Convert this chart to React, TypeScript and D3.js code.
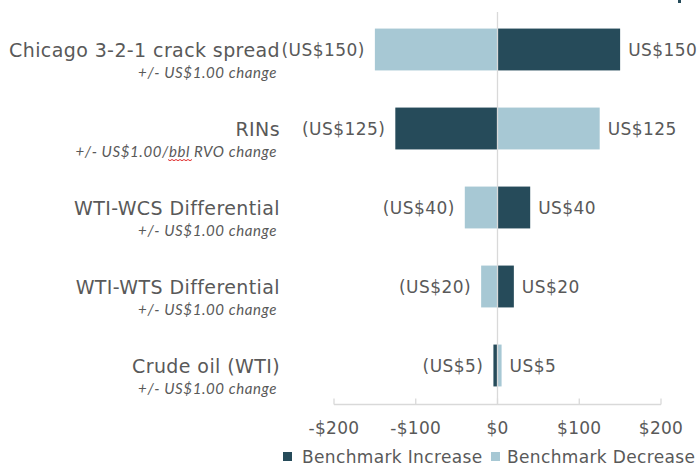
import React from "react";
import * as d3 from "d3";

const categories = [
  "Chicago 3-2-1 crack spread",
  "RINs",
  "WTI-WCS Differential",
  "WTI-WTS Differential",
  "Crude oil (WTI)",
];
const subtitles = [
  "+/- US$1.00 change",
  "+/- US$1.00/bbl RVO change",
  "+/- US$1.00 change",
  "+/- US$1.00 change",
  "+/- US$1.00 change",
];
const increaseValues = [150, -125, 40, 20, -5];
const decreaseValues = [-150, 125, -40, -20, 5];
const tickValues = [-200, -100, 0, 100, 200];
const legendLabels = ["Benchmark Increase", "Benchmark Decrease"];

const DARK = "#264b5a";
const LIGHT = "#a7c8d4";
const TEXT = "#595959";
const GRID = "#d9d9d9";
const FONT = "'DejaVu Sans', Verdana, sans-serif";
const SUBFONT = "Lato, 'Liberation Sans', sans-serif";

const fmtVal = (v: number) => (v < 0 ? `(US$${Math.abs(v)})` : `US$${v}`);
const fmtTick = (v: number) => (v < 0 ? `-$${Math.abs(v)}` : `$${v}`);

export default function App() {
  const W = 697;
  const H = 467;
  const x = d3.scaleLinear().domain([-200, 200]).range([334, 661]);
  const y = d3
    .scaleBand<string>()
    .domain(categories)
    .range([10, 405])
    .paddingInner(0.47)
    .paddingOuter(0.235);
  const bw = y.bandwidth();
  const axisY = 404.5;

  const bars: { cat: string; v: number; color: string }[] = [];
  categories.forEach((c, i) => {
    bars.push({ cat: c, v: increaseValues[i], color: DARK });
    bars.push({ cat: c, v: decreaseValues[i], color: LIGHT });
  });

  return (
    <svg
      width={W}
      height={H}
      style={{ position: "absolute", left: 0, top: 0, background: "#fff" }}
    >
      <rect x={678} y={0} width={3} height={3} fill={DARK} />
      {bars.map((b, i) => {
        const x0 = x(Math.min(0, b.v));
        const x1 = x(Math.max(0, b.v));
        return (
          <rect
            key={i}
            x={x0}
            y={y(b.cat)!}
            width={x1 - x0}
            height={bw}
            fill={b.color}
          />
        );
      })}
      <line x1={x(0)} x2={x(0)} y1={12} y2={axisY} stroke={GRID} strokeWidth={1.3} />
      <line x1={x(-200)} x2={x(200)} y1={axisY} y2={axisY} stroke={GRID} strokeWidth={1.3} />
      {tickValues.map((t) => (
        <g key={t}>
          <line x1={x(t)} x2={x(t)} y1={axisY - 6} y2={axisY} stroke={GRID} strokeWidth={1.3} />
          <text
            x={x(t)}
            y={434}
            textAnchor="middle"
            fontFamily={FONT}
            fontSize={17}
            letterSpacing={0.3}
            fill={TEXT}
          >
            {fmtTick(t)}
          </text>
        </g>
      ))}
      {categories.map((c, i) => {
        const cy = y(c)! + bw / 2;
        const vals = [increaseValues[i], decreaseValues[i]];
        const neg = Math.min(...vals);
        const pos = Math.max(...vals);
        return (
          <g key={c}>
            <text
              x={280}
              y={cy + 7}
              textAnchor="end"
              fontFamily={FONT}
              fontSize={19}
              letterSpacing={0.4}
              fill={TEXT}
            >
              {c}
            </text>
            <text
              x={277}
              y={cy + 28}
              textAnchor="end"
              fontFamily={SUBFONT}
              fontStyle="italic"
              fontSize={15}
              letterSpacing={0.6}
              fill={TEXT}
            >
              {subtitles[i]}
            </text>
            {i === 1 && (
              <path
                d={d3.range(0, 25, 2).map((d, k) => `${k === 0 ? "M" : "L"}${168 + d},${cy + 31 + (k % 2 ? 1.2 : 0)}`).join(" ")}
                stroke="#e03030"
                strokeWidth={1}
                fill="none"
              />
            )}
            <text
              x={x(neg) - 10}
              y={cy + 6}
              textAnchor="end"
              fontFamily={FONT}
              fontSize={17}
              letterSpacing={0.45}
              fill={TEXT}
            >
              {fmtVal(neg)}
            </text>
            <text
              x={x(pos) + 8}
              y={cy + 6}
              textAnchor="start"
              fontFamily={FONT}
              fontSize={17}
              letterSpacing={0.45}
              fill={TEXT}
            >
              {fmtVal(pos)}
            </text>
          </g>
        );
      })}
      <g>
        <rect x={283} y={452} width={9} height={9} fill={DARK} />
        <text x={302} y={463} fontFamily={FONT} fontSize={17} letterSpacing={0.35} fill={TEXT}>
          {legendLabels[0]}
        </text>
        <rect x={491} y={452} width={9} height={9} fill={LIGHT} />
        <text x={507} y={463} fontFamily={FONT} fontSize={17} letterSpacing={0.35} fill={TEXT}>
          {legendLabels[1]}
        </text>
      </g>
    </svg>
  );
}
